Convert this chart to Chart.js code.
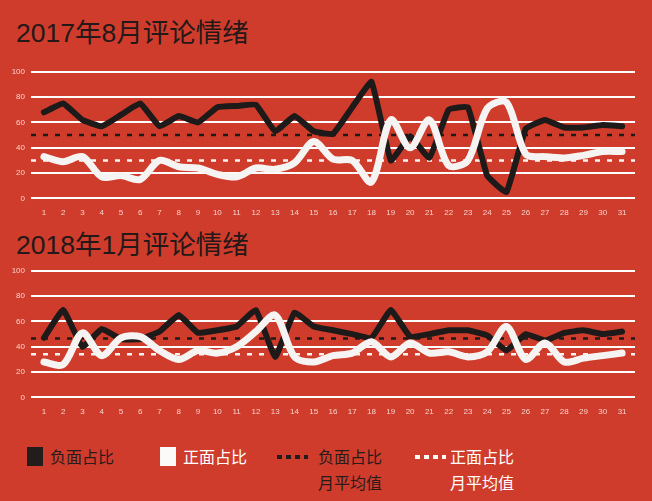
<!DOCTYPE html>
<html>
<head>
<meta charset="utf-8">
<script src="https://cdn.jsdelivr.net/npm/chart.js@4.4.1/dist/chart.umd.min.js"></script>
<style>
  html, body { margin: 0; padding: 0; }
  body { width: 652px; height: 501px; background: #cf3c2c; position: relative; overflow: hidden;
         font-family: "Noto Sans CJK SC", "Noto Sans", sans-serif; }
  .titulo { position: absolute; left: 16px; font-size: 26.5px; color: #241818; line-height: 1;
            font-family: "Liberation Sans", "Noto Sans CJK SC", sans-serif; }
  .graf { position: absolute; left: 0; width: 652px; }
  .leg { position: absolute; font-size: 16px; line-height: 26px; }
  .caixa { position: absolute; width: 16px; height: 19px; }
  .pontos { position: absolute; height: 4px; width: 31px; }
</style>
</head>
<body>
<div class="titulo" style="top:20px">2017年8月评论情绪</div>
<div class="graf" style="top:61px; height:159px"><canvas id="grafAgo"></canvas></div>
<div class="titulo" style="top:232px">2018年1月评论情绪</div>
<div class="graf" style="top:260px; height:159px"><canvas id="grafJan"></canvas></div>

<div class="caixa" style="left:27px; top:447px; background:#221c1c"></div>
<div class="leg" style="left:50px; top:443px; color:#2a1b1b">负面占比</div>
<div class="caixa" style="left:160px; top:447px; background:#fbfaf8"></div>
<div class="leg" style="left:183px; top:443px; color:#fff">正面占比</div>
<div class="pontos" style="left:277px; top:455px; background:repeating-linear-gradient(90deg,#221c1c 0 5px,transparent 5px 9px)"></div>
<div class="leg" style="left:318px; top:443px; color:#2a1b1b">负面占比<br>月平均值</div>
<div class="pontos" style="left:415px; top:455px; background:repeating-linear-gradient(90deg,#fbfaf8 0 5px,transparent 5px 9px)"></div>
<div class="leg" style="left:450px; top:443px; color:#fff">正面占比<br>月平均值</div>

<script>
// dias do mês (eixo x)
const dias = [];
for (let d = 1; d <= 31; d++) dias.push(d);
const yTicks = [0, 20, 40, 60, 80, 100];

// agosto 2017 (%)
const negAgo = [68, 75, 62, 57, 66, 75, 57, 65, 60, 72, 73, 74, 53, 65, 53, 51, 72, 92, 30, 49, 32, 70, 72, 18, 5, 55, 62, 56, 56, 58, 57];
const posAgo = [33, 29, 33, 17, 18, 15, 30, 25, 24, 19, 17, 24, 23, 28, 45, 31, 30, 13, 62, 40, 62, 26, 30, 71, 76, 35, 33, 32, 34, 37, 37];
const mediaNegAgo = 50;
const mediaPosAgo = 30;

// janeiro 2018 (%)
const negJan = [47, 69, 40, 54, 46, 46, 52, 65, 51, 53, 56, 69, 32, 67, 56, 53, 50, 47, 69, 48, 50, 53, 53, 49, 37, 50, 45, 51, 53, 50, 52];
const posJan = [28, 26, 51, 33, 47, 48, 37, 30, 37, 35, 40, 52, 65, 32, 28, 33, 35, 44, 32, 43, 35, 36, 32, 36, 56, 30, 43, 28, 31, 33, 35];
const mediaNegJan = 46.6;
const mediaPosJan = 34;

const corPreta = '#1f1a1a';
const corBranca = '#f6f4f2';
const xMin = 0.33, xMax = 31.67;

function pontos(valores) {
  return dias.map((d, i) => ({ x: d, y: valores[i] }));
}

function linhaMedia(valor) {
  return [{ x: xMin, y: valor }, { x: xMax, y: valor }];
}

function criarGrafico(id, neg, pos, mediaNeg, mediaPos) {
  const ctx = document.getElementById(id);
  return new Chart(ctx, {
    type: 'line',
    data: {
      datasets: [
        { data: linhaMedia(mediaNeg), borderColor: corPreta, borderWidth: 2.5, borderDash: [5, 7], pointRadius: 0, order: 3 },
        { data: linhaMedia(mediaPos), borderColor: corBranca, borderWidth: 2.5, borderDash: [5, 7], pointRadius: 0, order: 4 },
        { data: pontos(neg), borderColor: corPreta, borderWidth: 6, pointRadius: 0, tension: 0.1,
          borderJoinStyle: 'round', borderCapStyle: 'round', order: 2 },
        { data: pontos(pos), borderColor: corBranca, borderWidth: 7, pointRadius: 0, tension: 0.3,
          borderJoinStyle: 'round', borderCapStyle: 'round', order: 1 }
      ]
    },
    options: {
      responsive: true,
      maintainAspectRatio: false,
      animation: false,
      layout: { padding: { top: 8, right: 17, left: 0, bottom: 0 } },
      plugins: { legend: { display: false }, tooltip: { enabled: false } },
      scales: {
        x: {
          type: 'linear', min: xMin, max: xMax,
          afterBuildTicks: (scale) => { scale.ticks = dias.map(v => ({ value: v })); },
          grid: { display: false },
          border: { display: false },
          ticks: { color: 'rgba(255,235,230,0.85)', font: { size: 8, family: 'Liberation Sans' }, padding: 2, autoSkip: false, maxRotation: 0 }
        },
        y: {
          min: 0, max: 100,
          afterBuildTicks: (scale) => { scale.ticks = yTicks.map(v => ({ value: v })); },
          afterFit: (scale) => { scale.width = 31; },
          grid: { color: '#ffffff', lineWidth: 2, drawTicks: false },
          border: { display: false },
          ticks: { color: 'rgba(255,235,230,0.85)', font: { size: 8, family: 'Liberation Sans' }, padding: 6 }
        }
      }
    }
  });
}

criarGrafico('grafAgo', negAgo, posAgo, mediaNegAgo, mediaPosAgo);
criarGrafico('grafJan', negJan, posJan, mediaNegJan, mediaPosJan);
</script>
</body>
</html>
